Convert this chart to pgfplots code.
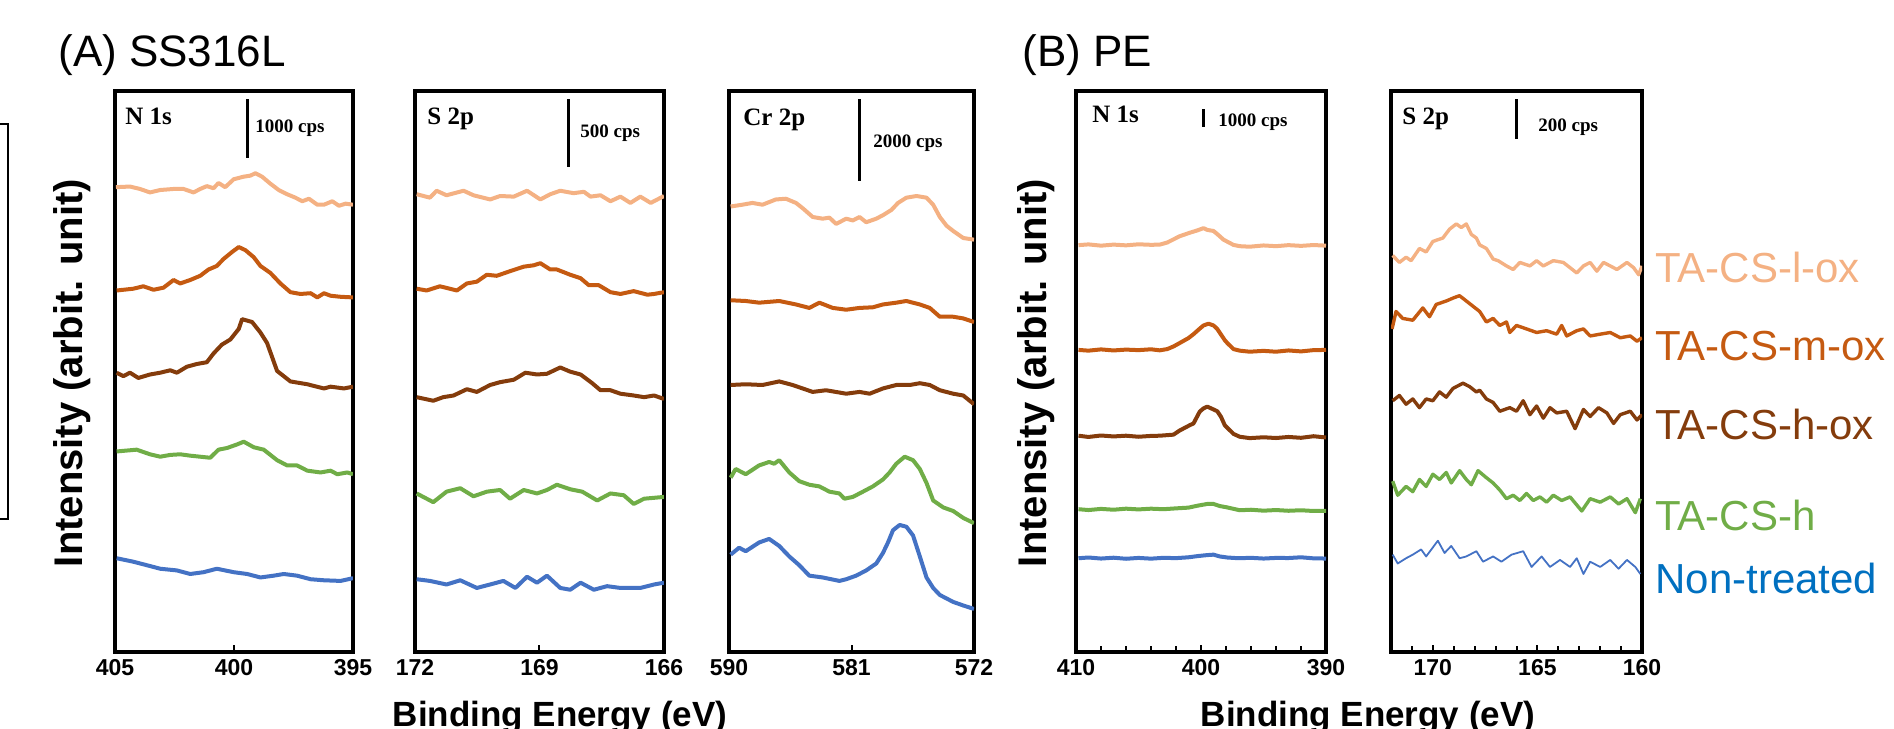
\documentclass[border=0pt]{standalone}
\usepackage{fontspec}
\setmainfont{Liberation Sans}
\newfontfamily\tnr{Liberation Serif}
\usepackage{pgfplots}
\pgfplotsset{compat=1.18}

\definecolor{lox}{HTML}{F4B183}
\definecolor{mox}{HTML}{C55A11}
\definecolor{hox}{HTML}{843C0C}
\definecolor{hh}{HTML}{70AD47}
\definecolor{nt}{HTML}{4472C4}
\definecolor{ntlab}{HTML}{0070C0}

\pgfplotsset{
  xps/.style={
    scale only axis,
    height=280.5pt,
    anchor=north west,
    axis line style={line width=1.6pt},
    x dir=reverse,
    ymin=19, ymax=553.3,
    ytick=\empty,
    xtick pos=bottom,
    tick align=inside,
    major tick length=3.5pt,
    minor tick length=3pt,
    every tick/.style={line width=1pt, black},
    xticklabel style={font=\bfseries\fontsize{11.5}{13}\selectfont, yshift=0pt},
    /pgf/number format/assume math mode=true,
    every axis plot/.append style={line width=2pt, line join=round, no markers},
  }
}

\begin{document}
\begin{tikzpicture}
\useasboundingbox (0,0) rectangle (947pt,-364pt);

% ---------------- (A) SS316L : N 1s
\begin{axis}[xps, at={(57.5pt,-45.5pt)}, width=119pt,
  xmin=395, xmax=405, xtick={395,400,405}]
\addplot[color=lox] coordinates {
(404.96,461.7)(404.37,462.3)(403.95,460)(403.53,456.7)(403.10,459)(402.54,460)(402.12,460)(401.70,456.7)(401.42,460)(401.14,462.7)(400.86,460.7)(400.65,465.7)(400.37,461.7)(400.01,469.3)(399.59,471.7)(399.31,472.7)(399.10,475)(398.82,471.7)(398.47,465)(398.12,459)(397.77,455)(397.42,451.7)(397.13,448.3)(396.85,450.7)(396.50,445)(396.22,445)(395.87,448.3)(395.59,444)(395.31,446)(395.00,445)};
\addplot[color=mox] coordinates {
(404.93,363.3)(404.23,365)(403.81,367.3)(403.38,364)(402.96,366)(402.54,373.3)(402.26,370)(401.84,373.3)(401.42,377.3)(401.07,383.3)(400.72,386.7)(400.44,393.3)(400.08,400)(399.80,404.7)(399.52,401.7)(399.17,395)(398.89,386.7)(398.47,380)(398.05,370)(397.63,361.7)(397.21,360)(396.78,360.7)(396.50,356.7)(396.22,360.7)(395.94,358.3)(395.52,357.3)(395.00,356.7)};
\addplot[color=hox] coordinates {
(404.93,285)(404.65,281.7)(404.37,285)(404.02,280)(403.53,283.3)(403.10,285)(402.68,287.3)(402.40,285)(401.98,290.7)(401.56,293.3)(401.14,295)(400.86,303.3)(400.51,311.7)(400.15,316.7)(399.80,326.7)(399.66,336)(399.24,333.3)(398.89,323.3)(398.61,313.3)(398.40,300)(398.19,286.7)(397.63,276.7)(396.92,274)(396.22,270)(395.94,271.7)(395.38,270)(395.00,271.7)};
\addplot[color=hh] coordinates {
(404.93,210)(404.09,211.7)(403.53,207.3)(403.10,205)(402.68,206.7)(402.26,207.3)(401.84,206)(401.42,205)(401.00,204)(400.65,211.7)(400.29,213.3)(399.87,216.7)(399.59,219.3)(399.17,214)(398.75,211.7)(398.19,201.7)(397.77,196.7)(397.35,196.7)(396.92,191.7)(396.36,190)(395.94,191.7)(395.66,188.3)(395.24,190)(395.00,188.3)};
\addplot[color=nt] coordinates {
(404.93,108.3)(404.23,105)(403.67,101.7)(403.10,98.3)(402.40,96.7)(401.84,93.3)(401.28,95)(400.72,98.3)(400.01,95)(399.45,93.3)(398.89,90)(398.33,91.7)(397.91,93.3)(397.35,91.7)(396.78,88.3)(396.22,87.3)(395.52,86.7)(395.00,89.3)};
\end{axis}

% ---------------- (A) SS316L : S 2p
\begin{axis}[xps, at={(207.5pt,-45.5pt)}, width=124.5pt,
  xmin=166, xmax=172, xtick={166,169,172}]
\addplot[color=lox] coordinates {
(171.96,455)(171.64,451.7)(171.48,458.3)(171.24,454)(170.83,458.3)(170.59,454)(170.19,450)(169.95,453.3)(169.62,452.7)(169.30,458.3)(168.98,450)(168.74,455)(168.50,458.3)(168.18,456)(167.93,457.3)(167.77,452.7)(167.53,454)(167.29,448.3)(167.05,452.7)(166.81,446.7)(166.57,452.7)(166.32,446.7)(166.00,453.3)};
\addplot[color=mox] coordinates {
(171.96,365)(171.72,363.3)(171.40,367.3)(170.99,363.3)(170.75,370)(170.51,371.7)(170.27,378.3)(170.03,377.3)(169.71,381.7)(169.38,386)(169.14,387.3)(168.98,389.3)(168.74,383.3)(168.58,383.3)(168.26,378.3)(168.01,375)(167.81,368.3)(167.57,368.3)(167.29,361.7)(167.05,360)(166.73,362.7)(166.40,359.3)(166.24,360)(166.00,361.7)};
\addplot[color=hox] coordinates {
(171.96,261.7)(171.56,258.3)(171.32,261.7)(171.07,263.3)(170.75,269.3)(170.51,266.7)(170.19,273.3)(169.95,276)(169.62,278.3)(169.34,285)(169.06,283.3)(168.82,284)(168.50,290)(168.26,286)(168.01,283.3)(167.73,275)(167.53,268.3)(167.29,268.3)(167.05,265)(166.73,263.3)(166.48,261.7)(166.24,263.3)(166.00,260)};
\addplot[color=hh] coordinates {
(171.96,170)(171.56,161.7)(171.24,171.7)(170.91,175)(170.59,167.3)(170.27,171.7)(169.95,173.3)(169.71,165)(169.38,173.3)(169.06,170)(168.82,173.3)(168.58,178.3)(168.26,174)(167.97,171.7)(167.61,163.3)(167.29,170)(166.97,168.3)(166.73,160)(166.48,165)(166.00,166.7)};
\addplot[color=nt] coordinates {
(171.96,88.3)(171.64,86.7)(171.24,83.3)(170.91,87.3)(170.51,80)(170.19,83.3)(169.87,86.7)(169.58,80)(169.30,90.7)(169.06,85)(168.82,91.7)(168.50,80)(168.26,78.3)(168.01,85)(167.69,78.3)(167.37,81.7)(167.05,80)(166.57,80)(166.24,83.3)(166.00,85)};
\end{axis}

% ---------------- (A) SS316L : Cr 2p
\begin{axis}[xps, at={(364.5pt,-45.5pt)}, width=122.5pt,
  xmin=572, xmax=590, xtick={572,581,590}]
\addplot[color=lox] coordinates {
(589.88,443.3)(589.02,445)(588.28,446.7)(587.54,445)(586.56,450)(585.82,450.7)(585.08,446.7)(584.59,441.7)(583.85,433.3)(583.12,431.7)(582.62,432.7)(582.13,426.7)(581.39,431.7)(580.90,430)(580.41,433.3)(579.92,428.3)(579.18,431.7)(578.69,435)(578.07,440)(577.58,446.7)(576.97,451.7)(576.23,453.3)(575.49,451.7)(575.00,445)(574.51,433.3)(574.02,425)(573.53,420)(572.79,413.3)(572.00,411.7)};
\addplot[color=mox] coordinates {
(589.88,354)(588.77,353.3)(587.79,351.7)(586.31,353.3)(585.08,350)(584.10,346.7)(583.36,351.7)(582.38,346.7)(581.39,345)(580.41,346.7)(579.43,347.3)(578.69,350)(577.71,351.7)(576.97,353.3)(575.98,350)(575.25,346.7)(574.51,338.3)(573.53,338.3)(572.79,336.7)(572.00,333.3)};
\addplot[color=hox] coordinates {
(589.88,273.3)(588.77,274)(587.54,273.3)(586.31,276.7)(585.33,273.3)(583.85,266.7)(582.87,268.3)(581.39,265)(580.41,266.7)(579.67,265)(578.69,270)(577.71,273.3)(576.72,273.3)(575.98,275)(575.25,273.3)(574.51,268.3)(573.53,265)(572.79,263.3)(572.00,255)};
\addplot[color=hh] coordinates {
(589.88,185)(589.51,193.3)(588.77,188.3)(587.79,196.7)(587.05,200)(586.68,198.3)(586.31,201.7)(585.57,190)(584.84,181.7)(584.10,178.3)(583.36,176.7)(582.62,171.7)(581.89,170)(581.52,165)(580.90,166.7)(580.16,171.7)(579.43,176.7)(578.69,183.3)(578.20,190)(577.71,198.3)(577.09,205)(576.48,201.7)(575.98,193.3)(575.49,180)(575.00,163.3)(574.26,156.7)(573.53,153.3)(572.79,146.7)(572.00,141.7)};
\addplot[color=nt] coordinates {
(589.88,111.7)(589.26,118.3)(588.77,115)(587.79,123.3)(587.05,126.7)(586.31,120)(585.57,110)(584.84,101.7)(584.10,91.7)(583.12,90)(581.89,86.7)(581.39,88.3)(580.66,91.7)(579.92,96.7)(579.18,103.3)(578.69,113.3)(578.32,123.3)(577.95,135)(577.46,140)(576.97,138.3)(576.48,130)(575.98,110)(575.49,90)(575.00,80)(574.51,73.3)(573.53,66.7)(572.79,63.3)(572.00,60)};
\end{axis}

% ---------------- (B) PE : N 1s
\begin{axis}[xps, at={(538pt,-45.5pt)}, width=125pt,
  xmin=390, xmax=410, xtick={390,400,410},
  minor xtick={392,394,396,398,402,404,406,408}]
\addplot[color=lox] coordinates {
(409.8,406.5)(409,407.2)(408,406)(407,407)(406,406.3)(405,407.3)(404,406.8)(403.3,407)(402.7,409)(402.2,412)(401.7,415)(400.9,418.3)(400.3,420.5)(399.8,422.7)(399.5,421)(399.0,420)(398.6,416)(398.2,411.7)(397.4,406.7)(396.9,405.5)(396.1,405)(395,406.2)(394,405.5)(393,406.5)(392,405.8)(391,406.6)(390,406)};
\addplot[color=mox] coordinates {
(409.8,306.7)(409,306)(408,307.2)(407,306.2)(406,307)(405,306.5)(404,307.3)(403.3,306.3)(402.7,307.5)(402.2,310)(401.7,313.3)(401.0,318)(400.6,321.7)(400.1,327)(399.8,330)(399.4,331.7)(399.0,330)(398.7,326.7)(398.1,316)(397.9,313.3)(397.4,307.5)(396.9,306)(396.1,305)(395,305.8)(394,305)(393,306.2)(392,305.3)(391,306.5)(390,306.7)};
\addplot[color=hox] coordinates {
(409.8,225)(409,223.8)(408,225.2)(407,224.3)(406,225)(405,224)(404,224.8)(403.3,225)(402.2,226)(401.7,230)(400.9,235)(400.6,236.7)(400.1,248)(399.8,251)(399.5,252.7)(399.0,250)(398.7,248.3)(398.4,243)(398.1,235)(397.4,226.7)(396.9,224)(396.1,222.7)(395,223.5)(394,222.8)(393,223.8)(392,223)(391,224.5)(390,223.3)};
\addplot[color=hh] coordinates {
(409.8,155)(409,154.2)(408,155.3)(407,154.5)(406,155.5)(405,154.8)(404,155.5)(403,155)(402,155.8)(401,156.5)(400.3,158.3)(399.5,160)(399.0,160)(398.5,158)(397.9,156.7)(396.9,154)(396,154.5)(395,153.6)(394,154.2)(393,153.5)(392,154)(391,153.3)(390,153.3)};
\addplot[color=nt] coordinates {
(409.8,108.3)(409,109)(408,108)(407,108.8)(406,107.8)(405,108.6)(404,107.9)(403,108.7)(402,108.4)(401,109.2)(400.3,110.3)(399.5,111.3)(399.0,111.7)(398.5,110)(397.9,109)(397,108.3)(396,108.7)(395,108)(394,108.6)(393,108.5)(392,109.2)(391,108.2)(390,108)};
\end{axis}

% ---------------- (B) PE : S 2p
\begin{axis}[xps, at={(695.5pt,-45.5pt)}, width=125.5pt,
  xmin=160, xmax=172, xtick={160,165,170},
  minor xtick={161,162,163,164,166,167,168,169,171},
  every axis plot/.append style={line width=1.7pt}]
\addplot[color=lox] coordinates {
(171.92,396.7)(171.60,390)(171.28,395)(171.04,391.7)(170.64,403.3)(170.32,400)(170.00,410)(169.52,413.3)(169.20,421.7)(168.88,426.7)(168.64,423.3)(168.40,426.7)(168.16,416.7)(167.92,413.3)(167.76,406.7)(167.44,403.3)(167.12,393.3)(166.88,391.7)(166.48,386.7)(166.16,383.3)(165.84,390)(165.36,386.7)(165.04,391.7)(164.72,386.7)(164.24,391.7)(163.76,390)(163.44,385)(163.12,380)(162.80,386.7)(162.48,390)(162.16,381.7)(161.84,390)(161.52,386.7)(161.20,383.3)(160.72,390)(160.40,385)(160.16,378.3)(160.00,386.7)};
\addplot[color=mox] coordinates {
(171.95,326.7)(171.76,343.3)(171.44,336.7)(170.96,335)(170.48,346.7)(170.16,338.3)(169.84,350)(169.36,353.3)(168.96,356.7)(168.72,358.3)(168.40,353.3)(168.08,348.3)(167.76,343.3)(167.44,333.3)(167.12,336.7)(166.80,330)(166.48,333.3)(166.32,323.3)(166.00,330)(165.52,326.7)(165.04,323.3)(164.56,325)(164.08,321.7)(163.84,330)(163.60,320)(163.12,325)(162.80,326.7)(162.48,320)(162.00,321.7)(161.52,323.3)(161.04,318.3)(160.56,320)(160.24,315)(160.00,318.3)};
\addplot[color=hox] coordinates {
(171.92,258.3)(171.60,263.3)(171.28,255)(170.96,260)(170.64,251.7)(170.32,260)(170.00,258.3)(169.68,266.7)(169.36,261.7)(169.04,270)(168.56,275)(168.24,271.7)(167.92,266.7)(167.76,268.3)(167.44,260)(167.12,256.7)(166.80,248.3)(166.32,251.7)(166.00,248.3)(165.68,258.3)(165.36,245)(165.04,253.3)(164.72,241.7)(164.40,251.7)(164.08,246.7)(163.60,248.3)(163.20,231.7)(162.80,250)(162.48,243.3)(162.08,251.7)(161.68,246.7)(161.36,236.7)(161.04,245)(160.56,248.3)(160.24,240)(160.00,245)};
\addplot[color=hh] coordinates {
(171.92,181.7)(171.68,168.3)(171.28,176.7)(170.96,171.7)(170.64,183.3)(170.32,176.7)(170.00,188.3)(169.68,183.3)(169.36,190)(169.12,180)(168.72,191.7)(168.40,183.3)(168.16,178.3)(167.84,191.7)(167.44,185)(167.12,180)(166.80,173.3)(166.48,165)(166.16,168.3)(165.84,163.3)(165.52,170)(165.20,163.3)(164.88,166.7)(164.56,161.7)(164.24,168.3)(163.84,163.3)(163.44,166.7)(162.88,153.3)(162.48,165)(162.00,161.7)(161.52,166.7)(161.12,160)(160.72,165)(160.32,151.7)(160.08,165)};
\addplot[color=nt, line width=0.9pt] coordinates {
(171.92,111.7)(171.68,103.3)(171.28,108.3)(170.96,111.7)(170.56,116.7)(170.32,110)(169.76,125)(169.44,113.3)(169.12,120)(168.72,108.3)(168.40,110)(167.92,115)(167.60,105)(167.12,110)(166.72,105)(166.24,111.7)(165.68,115)(165.28,100)(164.80,110)(164.40,100)(163.92,106.7)(163.44,100)(163.12,108.3)(162.80,93.3)(162.48,105)(162.00,100)(161.52,106.7)(161.12,98.3)(160.72,106.7)(160.32,100)(160.08,93.3)};
\end{axis}

% ---------------- labels, scale bars (pixel grid of the reference)
\begin{scope}[x=0.5pt, y=-0.5pt]
\draw[line width=1pt] (-20,124) rectangle (8,519);

\node[anchor=base west, inner sep=0, font=\fontsize{22}{26}\selectfont] at (58,66) {(A) SS316L};
\node[anchor=base west, inner sep=0, font=\fontsize{22}{26}\selectfont] at (1022,66) {(B) PE};

\node[rotate=90, font=\bfseries\fontsize{20}{24}\selectfont] at (72,373) {Intensity (arbit. unit)};
\node[rotate=90, font=\bfseries\fontsize{20}{24}\selectfont] at (1036,373) {Intensity (arbit. unit)};

\node[anchor=base, inner sep=0, font=\bfseries\fontsize{17.5}{20}\selectfont] at (560,726) {Binding Energy (eV)};
\node[anchor=base, inner sep=0, font=\bfseries\fontsize{17.5}{20}\selectfont] at (1368,726) {Binding Energy (eV)};

\tikzset{pl/.style={anchor=base west, inner sep=0, font=\tnr\bfseries\fontsize{12.5}{14}\selectfont},
         cps/.style={anchor=base west, inner sep=0, font=\tnr\bfseries\fontsize{9.5}{11}\selectfont},
         bar/.style={line width=1.5pt}}
\node[pl] at (125,124) {N 1s};
\draw[bar] (247,99) -- (247,158);
\node[cps] at (255,132) {1000 cps};

\node[pl] at (427,124) {S 2p};
\draw[bar] (568,99) -- (568,167);
\node[cps] at (580,137) {500 cps};

\node[pl] at (743,125) {Cr 2p};
\draw[bar] (859,99) -- (859,181);
\node[cps] at (873,147) {2000 cps};

\node[pl] at (1092,122) {N 1s};
\draw[bar] (1203,109) -- (1203,127);
\node[cps] at (1218,126) {1000 cps};

\node[pl] at (1402,124) {S 2p};
\draw[bar] (1516,99) -- (1516,139);
\node[cps] at (1538,131) {200 cps};

\tikzset{leg/.style={anchor=base west, inner sep=0, font=\fontsize{21}{25}\selectfont}}
\node[leg, text=lox] at (1655,282) {TA-CS-l-ox};
\node[leg, text=mox] at (1655,360) {TA-CS-m-ox};
\node[leg, text=hox] at (1655,439) {TA-CS-h-ox};
\node[leg, text=hh] at (1655,530) {TA-CS-h};
\node[leg, text=ntlab] at (1655,593) {Non-treated};
\end{scope}
\end{tikzpicture}
\end{document}
